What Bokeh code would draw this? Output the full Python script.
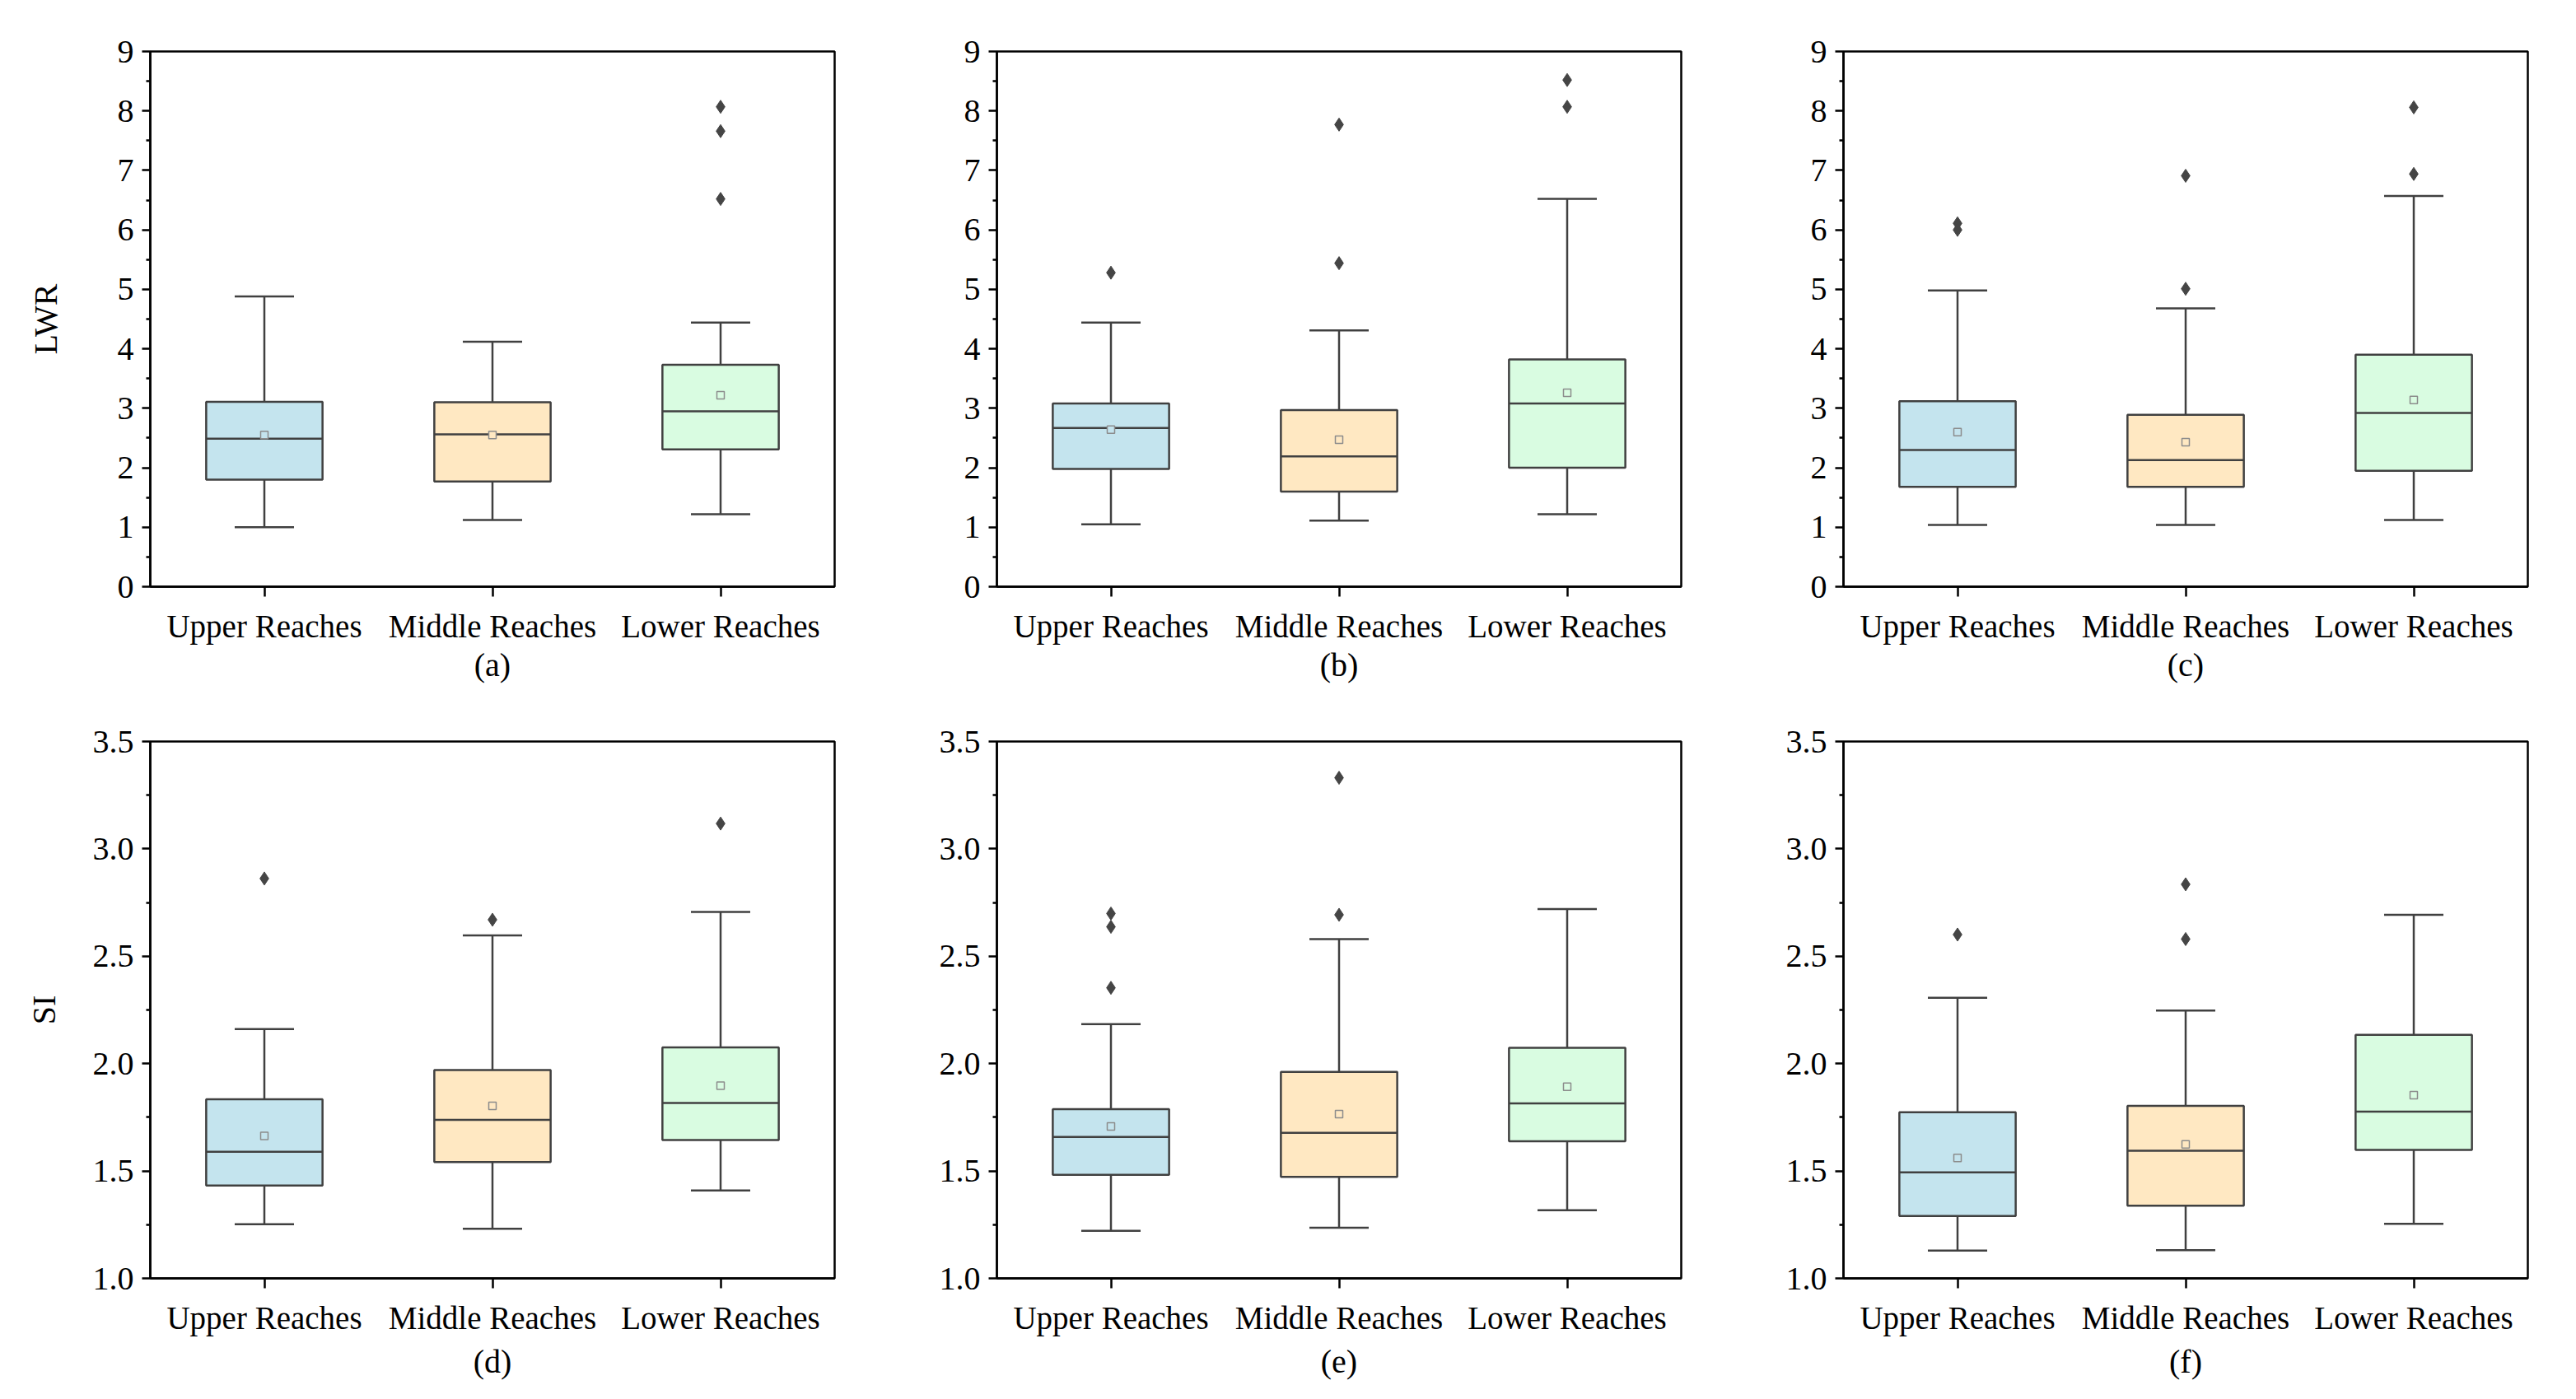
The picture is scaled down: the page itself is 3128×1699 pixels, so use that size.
from bokeh.plotting import figure
from bokeh.models import Range1d, FixedTicker, PrintfTickFormatter
from bokeh.layouts import column, row
from bokeh.embed import file_html
from bokeh.resources import INLINE

categories = ["Upper Reaches", "Middle Reaches", "Lower Reaches"]
box_colors = ["#C4E4EE", "#FFE8C2", "#D9FCE1"]

# ---- LWR panels (a), (b), (c) ----
a_low = [1.00, 1.12, 1.22]
a_q1 = [1.80, 1.77, 2.31]
a_med = [2.49, 2.56, 2.95]
a_q3 = [3.11, 3.10, 3.73]
a_high = [4.88, 4.12, 4.44]
a_mean = [2.55, 2.55, 3.22]
a_out = [[], [], [8.07, 7.66, 6.52]]

b_low = [1.05, 1.11, 1.22]
b_q1 = [1.98, 1.60, 2.00]
b_med = [2.67, 2.19, 3.08]
b_q3 = [3.08, 2.97, 3.82]
b_high = [4.44, 4.31, 6.52]
b_mean = [2.64, 2.47, 3.26]
b_out = [[5.28], [7.77, 5.44], [8.52, 8.07]]

c_low = [1.04, 1.04, 1.12]
c_q1 = [1.68, 1.68, 1.95]
c_med = [2.30, 2.13, 2.92]
c_q3 = [3.12, 2.89, 3.90]
c_high = [4.98, 4.68, 6.57]
c_mean = [2.60, 2.43, 3.14]
c_out = [[6.11, 6.00], [6.91, 5.01], [8.06, 6.94]]

# ---- SI panels (d), (e), (f) ----
d_low = [1.252, 1.231, 1.409]
d_q1 = [1.432, 1.542, 1.644]
d_med = [1.590, 1.738, 1.817]
d_q3 = [1.834, 1.970, 2.076]
d_high = [2.161, 2.597, 2.706]
d_mean = [1.663, 1.803, 1.897]
d_out = [[2.862], [2.670], [3.118]]

e_low = [1.221, 1.236, 1.317]
e_q1 = [1.482, 1.473, 1.638]
e_med = [1.659, 1.678, 1.815]
e_q3 = [1.788, 1.961, 2.074]
e_high = [2.184, 2.580, 2.720]
e_mean = [1.707, 1.765, 1.892]
e_out = [[2.699, 2.637, 2.353], [3.331, 2.693], []]

f_low = [1.129, 1.131, 1.254]
f_q1 = [1.290, 1.338, 1.598]
f_med = [1.494, 1.594, 1.776]
f_q3 = [1.774, 1.803, 2.134]
f_high = [2.307, 2.247, 2.693]
f_mean = [1.561, 1.624, 1.853]
f_out = [[2.601], [2.835, 2.580], []]

lwr_ticks = [0, 1, 2, 3, 4, 5, 6, 7, 8, 9]
lwr_minor = [0.5, 1.5, 2.5, 3.5, 4.5, 5.5, 6.5, 7.5, 8.5]
si_ticks = [1.0, 1.5, 2.0, 2.5, 3.0, 3.5]
si_minor = [1.25, 1.75, 2.25, 2.75, 3.25]

FONT = "Liberation Serif"
LINE = "#404040"
BOX_W = 0.51
CAP_W = 0.26


def make_panel(low, q1, med, q3, high, mean, outs, yr, ticks, minor, fmt,
               ylabel, sub, height, top, bottom, ystandoff, xstandoff):
    p = figure(width=1028, height=height, output_backend="svg",
               toolbar_location=None,
               x_range=Range1d(0.5, 3.5), y_range=Range1d(*yr),
               min_border_left=182, min_border_right=15,
               min_border_top=top, min_border_bottom=bottom)
    p.background_fill_color = "white"
    p.border_fill_color = "white"
    p.outline_line_color = "black"
    p.outline_line_width = 2.5
    p.xgrid.visible = False
    p.ygrid.visible = False

    xs = [i + 1 for i in range(len(categories))]
    left = [x - BOX_W / 2 for x in xs]
    right = [x + BOX_W / 2 for x in xs]
    cl = [x - CAP_W / 2 for x in xs]
    cr = [x + CAP_W / 2 for x in xs]

    # whiskers
    p.segment(x0=xs, y0=q3, x1=xs, y1=high, line_color=LINE, line_width=2.5)
    p.segment(x0=xs, y0=low, x1=xs, y1=q1, line_color=LINE, line_width=2.5)
    p.segment(x0=cl, y0=high, x1=cr, y1=high, line_color=LINE, line_width=2.5)
    p.segment(x0=cl, y0=low, x1=cr, y1=low, line_color=LINE, line_width=2.5)
    # boxes
    p.quad(left=left, right=right, bottom=q1, top=q3, fill_color=box_colors,
           line_color=LINE, line_width=2.5)
    p.segment(x0=left, y0=med, x1=right, y1=med, line_color=LINE, line_width=2.5)
    # means
    p.scatter(x=xs, y=mean, marker="square", size=9, fill_color=box_colors,
              line_color="#8c8c8c", line_width=1.5)
    # outliers
    ox, oy = [], []
    for x, vals in zip(xs, outs):
        for v in vals:
            ox.append(x)
            oy.append(v)
    if ox:
        p.scatter(x=ox, y=oy, marker="diamond", size=16, fill_color="#454545",
                  line_color="#454545")

    # x axis
    xa = p.xaxis[0]
    xa.ticker = FixedTicker(ticks=xs)
    xa.major_label_overrides = {x: c for x, c in zip(xs, categories)}
    xa.major_tick_in = 0
    xa.major_tick_out = 12
    xa.minor_tick_in = 0
    xa.minor_tick_out = 0
    xa.axis_line_color = "black"
    xa.axis_line_width = 2.5
    xa.major_tick_line_color = "black"
    xa.major_tick_line_width = 2.5
    xa.major_label_text_font = FONT
    xa.major_label_text_font_size = "39px"
    xa.major_label_text_color = "black"
    xa.major_label_standoff = 14
    xa.axis_label = sub
    xa.axis_label_text_font = FONT
    xa.axis_label_text_font_size = "40px"
    xa.axis_label_text_font_style = "normal"
    xa.axis_label_text_color = "black"
    xa.axis_label_standoff = xstandoff

    # y axis
    ya = p.yaxis[0]
    ya.ticker = FixedTicker(ticks=ticks, minor_ticks=minor)
    ya.formatter = PrintfTickFormatter(format=fmt)
    ya.major_tick_in = 0
    ya.major_tick_out = 10
    ya.minor_tick_in = 0
    ya.minor_tick_out = 5
    ya.axis_line_color = "black"
    ya.axis_line_width = 2.5
    ya.major_tick_line_color = "black"
    ya.major_tick_line_width = 2.5
    ya.minor_tick_line_color = "black"
    ya.minor_tick_line_width = 2.5
    ya.major_label_text_font = FONT
    ya.major_label_text_font_size = "40px"
    ya.major_label_text_color = "black"
    ya.major_label_standoff = 10
    if ylabel:
        ya.axis_label = ylabel
        ya.axis_label_text_font = FONT
        ya.axis_label_text_font_size = "40px"
        ya.axis_label_text_font_style = "normal"
        ya.axis_label_text_color = "black"
        ya.axis_label_standoff = ystandoff
    return p


pa = make_panel(a_low, a_q1, a_med, a_q3, a_high, a_mean, a_out, (0, 9), lwr_ticks, lwr_minor,
                "%d", "LWR", "(a)", 834, 62, 122, 62, 0)
pb = make_panel(b_low, b_q1, b_med, b_q3, b_high, b_mean, b_out, (0, 9), lwr_ticks, lwr_minor,
                "%d", None, "(b)", 834, 62, 122, 62, 0)
pc = make_panel(c_low, c_q1, c_med, c_q3, c_high, c_mean, c_out, (0, 9), lwr_ticks, lwr_minor,
                "%d", None, "(c)", 834, 62, 122, 62, 0)
pd = make_panel(d_low, d_q1, d_med, d_q3, d_high, d_mean, d_out, (1.0, 3.5), si_ticks, si_minor,
                "%.1f", "SI", "(d)", 848, 66, 130, 34, 6)
pe = make_panel(e_low, e_q1, e_med, e_q3, e_high, e_mean, e_out, (1.0, 3.5), si_ticks, si_minor,
                "%.1f", None, "(e)", 848, 66, 130, 34, 6)
pf = make_panel(f_low, f_q1, f_med, f_q3, f_high, f_mean, f_out, (1.0, 3.5), si_ticks, si_minor,
                "%.1f", None, "(f)", 848, 66, 130, 34, 6)

layout = column(row(pa, pb, pc), row(pd, pe, pf))
open("out.html", "w").write(file_html(layout, INLINE))
